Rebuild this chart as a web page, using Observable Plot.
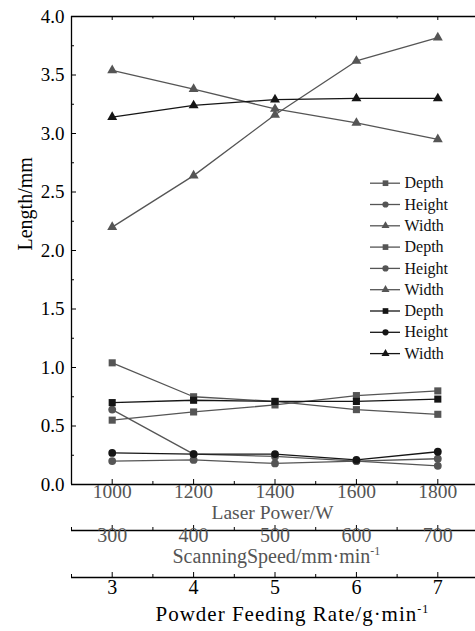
<!DOCTYPE html>
<html><head><meta charset="utf-8">
<script src="https://cdn.jsdelivr.net/npm/d3@7"></script>
<script src="https://cdn.jsdelivr.net/npm/@observablehq/plot@0.6"></script>
<style>body{margin:0;background:#fff}</style>
</head><body><div id="chart"></div>
<script>
// ---- data ----
const laserPower = [1000, 1200, 1400, 1600, 1800];
const scanningSpeed = [300, 400, 500, 600, 700];
const feedingRate = [3, 4, 5, 6, 7];

// group 1: laser power (gray)
const depthLP  = [0.55, 0.62, 0.68, 0.76, 0.80];
const heightLP = [0.20, 0.21, 0.18, 0.20, 0.16];
const widthLP  = [2.20, 2.64, 3.16, 3.62, 3.82];
// group 2: scanning speed (gray)
const depthSS  = [1.04, 0.75, 0.71, 0.64, 0.60];
const heightSS = [0.64, 0.26, 0.24, 0.20, 0.22];
const widthSS  = [3.54, 3.38, 3.21, 3.09, 2.95];
// group 3: powder feeding rate (black)
const depthPF  = [0.70, 0.72, 0.71, 0.71, 0.73];
const heightPF = [0.27, 0.26, 0.26, 0.21, 0.28];
const widthPF  = [3.14, 3.24, 3.29, 3.30, 3.30];

const yTicks = [0, 0.5, 1, 1.5, 2, 2.5, 3, 3.5, 4];
const yMinor = [0.25, 0.75, 1.25, 1.75, 2.25, 2.75, 3.25, 3.75];
const xMinor = [900, 1100, 1300, 1500, 1700, 1900];
const legendLabels = ["Depth", "Height", "Width", "Depth", "Height", "Width", "Depth", "Height", "Width"];

// ---- layout ----
const W = 475, H = 631, mT = 16, mB = 147, mL = 71, mR = 0;
const frameH = H - mT - mB, frameW = W - mL - mR;
const gray = "#555555", black = "#151515";
const font = "Liberation Serif";

const speedToX = s => 1000 + (s - 300) * 2;
const rateToX = r => 1000 + (r - 3) * 200;

const series = [
  {v: depthLP,  c: gray,  s: "square",   r: 4.0},
  {v: heightLP, c: gray,  s: "circle",   r: 3.9},
  {v: widthLP,  c: gray,  s: "triangle", r: 3.7},
  {v: depthSS,  c: gray,  s: "square",   r: 4.0},
  {v: heightSS, c: gray,  s: "circle",   r: 3.9},
  {v: widthSS,  c: gray,  s: "triangle", r: 3.7},
  {v: depthPF,  c: black, s: "square",   r: 4.0},
  {v: heightPF, c: black, s: "circle",   r: 3.9},
  {v: widthPF,  c: black, s: "triangle", r: 3.7}
];

const T = {fontFamily: font};
const marks = [];
// frame
marks.push(Plot.ruleY([0], {stroke: "black", strokeWidth: 1.3}));
marks.push(Plot.ruleY([4], {stroke: "black", strokeWidth: 1.3}));
marks.push(Plot.ruleX([900], {stroke: "black", strokeWidth: 1.3}));
// main x ticks (inward)
marks.push(Plot.ruleX(laserPower, {x: d => d, insetTop: frameH - 5, stroke: "black"}));
marks.push(Plot.ruleX(xMinor, {x: d => d, insetTop: frameH - 3, stroke: "black"}));
marks.push(Plot.ruleX(laserPower, {x: d => d, insetBottom: frameH - 4, stroke: "black"}));
marks.push(Plot.ruleX(xMinor, {x: d => d, insetBottom: frameH - 2.5, stroke: "black"}));
// y ticks
marks.push(Plot.ruleY(yTicks, {y: d => d, insetRight: frameW - 5, stroke: "black"}));
marks.push(Plot.ruleY(yMinor, {y: d => d, insetRight: frameW - 3, stroke: "black"}));
// y labels
marks.push(Plot.text(yTicks, {...T, y: d => d, text: d => d.toFixed(1), frameAnchor: "left", dx: -7, textAnchor: "end", fontSize: 19, fill: "black"}));
marks.push(Plot.text(["Length/mm"], {...T, text: d => d, frameAnchor: "left", dx: -46, rotate: -90, fontSize: 20, fill: "black"}));
// main x labels
marks.push(Plot.text(laserPower, {...T, x: d => d, text: d => String(d), frameAnchor: "bottom", dy: 13, fontSize: 19.5, fill: gray}));
marks.push(Plot.text(["Laser Power/W"], {...T, text: d => d, frameAnchor: "bottom-left", dx: 140, dy: 34, textAnchor: "start", fontSize: 19.5, fill: gray}));
// scanning speed axis
marks.push(Plot.ruleY([0], {dy: 46, stroke: "black", strokeWidth: 1.3}));
marks.push(Plot.ruleX(scanningSpeed, {x: speedToX, dy: 46, insetTop: frameH - 5, stroke: "black"}));
marks.push(Plot.ruleX(xMinor, {x: d => d, dy: 46, insetTop: frameH - 3, stroke: "black"}));
marks.push(Plot.text(scanningSpeed, {...T, x: speedToX, text: d => String(d), frameAnchor: "bottom", dy: 57.5, fontSize: 20, fill: gray}));
marks.push(Plot.text(["ScanningSpeed/mm·min"], {...T, text: d => d, frameAnchor: "bottom-left", dx: 101, dy: 78, textAnchor: "start", fontSize: 20, fill: gray}));
// powder feeding axis
marks.push(Plot.ruleY([0], {dy: 93, stroke: "black", strokeWidth: 1.3}));
marks.push(Plot.ruleX(feedingRate, {x: rateToX, dy: 93, insetTop: frameH - 5, stroke: "black"}));
marks.push(Plot.ruleX(xMinor, {x: d => d, dy: 93, insetTop: frameH - 3, stroke: "black"}));
marks.push(Plot.text(feedingRate, {...T, x: rateToX, text: d => String(d), frameAnchor: "bottom", dy: 109, fontSize: 20, fill: "black"}));
marks.push(Plot.text(["Powder Feeding Rate/g·min"], {...T, text: d => d, frameAnchor: "bottom-left", dx: 84, dy: 136, textAnchor: "start", fontSize: 21, fill: "black"}));

// data
for (const s of series) {
  marks.push(Plot.line(laserPower, {x: d => d, y: (d, i) => s.v[i], stroke: s.c, strokeWidth: 1.3}));
}
for (const s of series) {
  marks.push(Plot.dot(laserPower, {x: d => d, y: (d, i) => s.v[i], symbol: s.s, r: s.r, fill: s.c, stroke: "none"}));
}

// legend
const legY0 = 182.7 - mT, legStep = 21.3;
legendLabels.forEach((lab, i) => {
  const s = series[i];
  const dy = legY0 + i * legStep;
  marks.push(Plot.ruleY([4], {y: d => d, dy, insetLeft: 370 - mL, insetRight: W - 400, stroke: s.c, strokeWidth: 1.3}));
  marks.push(Plot.dot([lab], {frameAnchor: "top-left", dx: 385 - mL, dy, symbol: s.s, r: s.r * 0.8, fill: s.c, stroke: "none"}));
  marks.push(Plot.text([lab], {...T, text: d => d, frameAnchor: "top-left", dx: 404 - mL, dy, textAnchor: "start", lineAnchor: "middle", fontSize: 16, fill: "#111"}));
});

const chart = Plot.plot({
  width: W, height: H,
  marginTop: mT, marginBottom: mB, marginLeft: mL, marginRight: mR,
  x: {domain: [900, 1892.6], axis: null},
  y: {domain: [0, 4], axis: null},
  style: {fontFamily: font, background: "white"},
  marks
});

// superscripts and spacing
chart.querySelectorAll("text").forEach(t => {
  const c = t.textContent;
  if (c === "ScanningSpeed/mm·min" || c === "Powder Feeding Rate/g·min") {
    const ns = "http://www.w3.org/2000/svg";
    const sup = document.createElementNS(ns, "tspan");
    sup.setAttribute("dy", "-8");
    sup.setAttribute("font-size", "12");
    sup.textContent = "-1";
    t.appendChild(sup);
    if (c.startsWith("Powder")) t.setAttribute("letter-spacing", "1");
  }
});

document.getElementById("chart").appendChild(chart);
</script>
</body></html>
